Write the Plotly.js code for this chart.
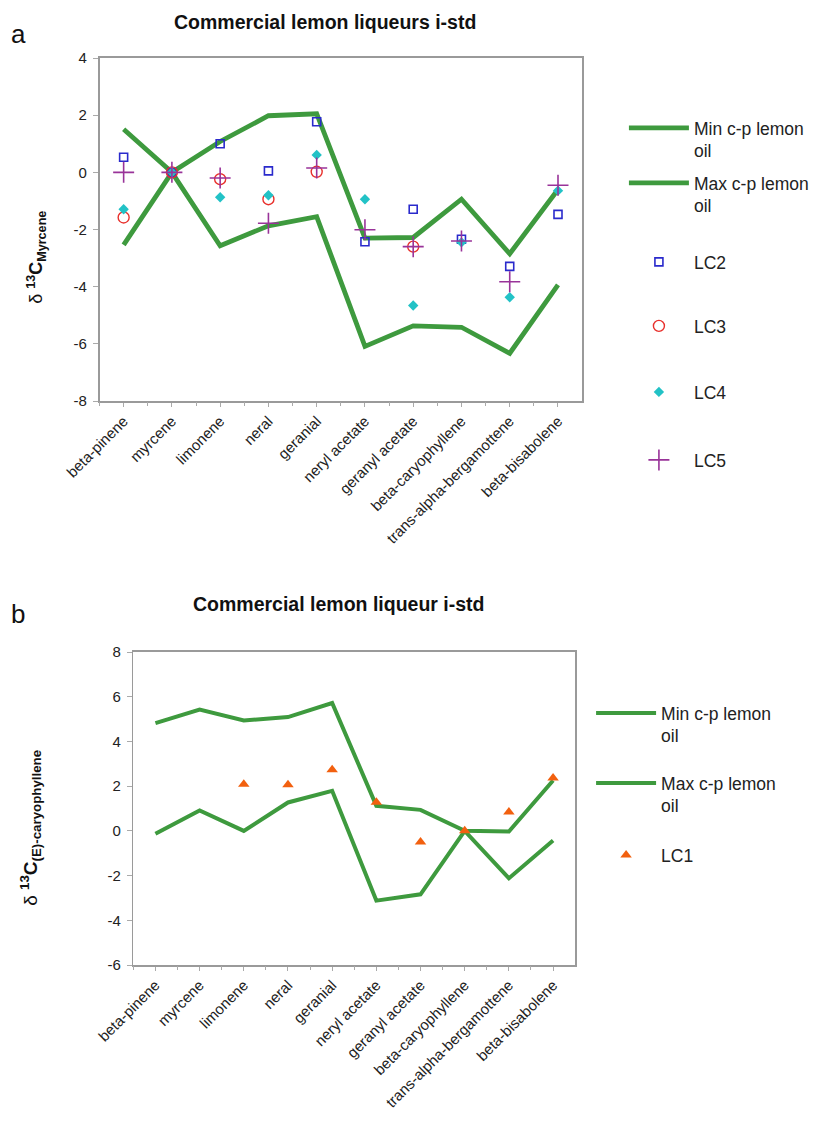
<!DOCTYPE html>
<html>
<head>
<meta charset="utf-8">
<script src="https://cdn.plot.ly/plotly-3.0.1.min.js"></script>
<style>html,body{margin:0;padding:0;background:#fff;}#chart{width:814px;height:1130px;}</style>
</head>
<body>
<div id="chart"></div>
<script>
const categories = ['beta-pinene','myrcene','limonene','neral','geranial','neryl acetate','geranyl acetate','beta-caryophyllene','trans-alpha-bergamottene','beta-bisabolene'];

// Panel a: δ13C Myrcene
const minA = [-2.54, 0, -2.57, -1.87, -1.55, -6.09, -5.37, -5.42, -6.33, -3.94];
const maxA = [1.51, 0, 1.08, 1.98, 2.05, -2.30, -2.28, -0.94, -2.85, -0.60];
const lc2 = [0.53, 0, 1.00, 0.05, 1.77, -2.43, -1.29, -2.34, -3.29, -1.47];
const lc3 = [-1.58, 0, -0.24, -0.94, 0.02, null, -2.60, null, null, null];
const lc4 = [-1.29, 0, -0.87, -0.80, 0.61, -0.94, -4.66, -2.45, -4.37, -0.64];
const lc5 = [0, 0, -0.20, -1.78, 0.15, -2.01, -2.60, -2.40, -3.83, -0.45];
const yTicksA = [-8, -6, -4, -2, 0, 2, 4];
const yTickTextA = ['-8', '-6', '-4', '-2', '0', '2', '4'];

// Panel b: δ13C (E)-caryophyllene
const minB = [-0.13, 0.91, 0.00, 1.27, 1.79, -3.12, -2.84, 0.00, -2.12, -0.43];
const maxB = [4.82, 5.42, 4.94, 5.09, 5.72, 1.12, 0.94, 0.00, -0.03, 2.25];
const lc1 = [null, null, 2.09, 2.06, 2.73, 1.28, -0.50, 0.00, 0.84, 2.36];
const yTicksB = [-6, -4, -2, 0, 2, 4, 6, 8];
const yTickTextB = ['-6', '-4', '-2', '0', '2', '4', '6', '8'];

const W = 814, H = 1130;
const px = v => v / W;
const py = v => 1 - v / H;
const green = '#3e9a3e';
const FONT = 'Liberation Sans, Arial, sans-serif';

const traces = [
  {x: categories, y: minA, name: 'Min c-p lemon<br>oil', mode: 'lines', line: {color: green, width: 4.8}, xaxis: 'x', yaxis: 'y', legend: 'legend'},
  {x: categories, y: maxA, name: 'Max c-p lemon<br>oil', mode: 'lines', line: {color: green, width: 4.8}, xaxis: 'x', yaxis: 'y', legend: 'legend2'},
  {x: categories, y: lc2, name: 'LC2', mode: 'markers', marker: {symbol: 'square-open', size: 8, color: '#2a2acc', line: {width: 1.6}}, xaxis: 'x', yaxis: 'y', legend: 'legend3'},
  {x: categories, y: lc3, name: 'LC3', mode: 'markers', marker: {symbol: 'circle-open', size: 11, color: '#e8302c', line: {width: 1.4}}, xaxis: 'x', yaxis: 'y', legend: 'legend4'},
  {x: categories, y: lc4, name: 'LC4', mode: 'markers', marker: {symbol: 'diamond', size: 8, color: '#22c2c6'}, xaxis: 'x', yaxis: 'y', legend: 'legend5'},
  {x: categories, y: lc5, name: 'LC5', mode: 'markers', marker: {symbol: 'cross-thin-open', size: 15, color: '#993399', line: {width: 1.6, color: '#993399'}}, xaxis: 'x', yaxis: 'y', legend: 'legend6'},
  // helper for boundary ticks (invisible)
  {x: categories, y: minA, mode: 'markers', marker: {opacity: 0}, xaxis: 'x2', yaxis: 'y', showlegend: false, hoverinfo: 'skip'},

  {x: categories, y: maxB, name: 'Min c-p lemon<br>oil', mode: 'lines', line: {color: green, width: 4}, xaxis: 'x3', yaxis: 'y3', legend: 'legend7'},
  {x: categories, y: minB, name: 'Max c-p lemon<br>oil', mode: 'lines', line: {color: green, width: 4}, xaxis: 'x3', yaxis: 'y3', legend: 'legend8'},
  {x: categories, y: lc1, name: 'LC1', mode: 'markers', marker: {symbol: 'triangle-up', size: 10, color: '#f2600f'}, xaxis: 'x3', yaxis: 'y3', legend: 'legend9'},
  {x: categories, y: minB, mode: 'markers', marker: {opacity: 0}, xaxis: 'x4', yaxis: 'y3', showlegend: false, hoverinfo: 'skip'}
];

const xBase = {
  type: 'category', range: [-0.5, 9.5], ticks: 'outside', ticklen: 4, tickcolor: '#aaa', tickwidth: 1,
  tickangle: -45, tickfont: {family: FONT, size: 15, color: '#222'},
  showline: true, mirror: true, linecolor: '#9a9a9a', linewidth: 1.6, showgrid: false, zeroline: false, fixedrange: true
};
const xTick = {
  type: 'category', range: [-0.5, 9.5], ticks: 'outside', ticklen: 4, tickcolor: '#aaa', tickwidth: 1,
  tickson: 'boundaries', showticklabels: false, showline: false, showgrid: false, zeroline: false
};
const yBase = {
  ticks: 'outside', ticklen: 5, tickcolor: '#aaa', tickmode: 'array', tickfont: {family: FONT, size: 15, color: '#222'},
  ticklabelstandoff: 3,
  showline: true, mirror: true, linecolor: '#9a9a9a', linewidth: 1.6, showgrid: false, zeroline: false, fixedrange: true
};

function leg(xp, yp) {
  return {x: px(xp), y: py(yp - 18), xanchor: 'left', yanchor: 'top', valign: 'top',
          font: {family: FONT, size: 17.5, color: '#222'}, bgcolor: 'rgba(0,0,0,0)', itemwidth: 60};
}

const layout = {
  width: W, height: H,
  margin: {l: 0, r: 0, t: 0, b: 0},
  paper_bgcolor: '#fff', plot_bgcolor: '#fff',
  font: {family: FONT, color: '#222'},
  showlegend: true,
  xaxis: Object.assign({}, xBase, {domain: [px(100), px(585)], anchor: 'y'}),
  xaxis2: Object.assign({}, xTick, {overlaying: 'x', anchor: 'y'}),
  yaxis: Object.assign({}, yBase, {domain: [py(401), py(58)], anchor: 'x', range: [-8, 4], tickvals: yTicksA, ticktext: yTickTextA}),
  xaxis3: Object.assign({}, xBase, {domain: [px(134), px(578)], anchor: 'y3'}),
  xaxis4: Object.assign({}, xTick, {overlaying: 'x3', anchor: 'y3'}),
  yaxis3: Object.assign({}, yBase, {domain: [py(965), py(652)], anchor: 'x3', range: [-6, 8], tickvals: yTicksB, ticktext: yTickTextB}),
  legend: leg(627, 128),
  legend2: leg(627, 183),
  legend3: leg(627, 262),
  legend4: leg(627, 326),
  legend5: leg(627, 392),
  legend6: leg(627, 460),
  legend7: leg(594, 713),
  legend8: leg(594, 783),
  legend9: leg(594, 855),
  annotations: [
    {text: '<b>Commercial lemon liqueurs i-std</b>', xref: 'paper', yref: 'paper', x: px(327), y: py(22), xanchor: 'center', yanchor: 'middle', showarrow: false, font: {family: FONT, size: 19.5, color: '#111'}},
    {text: '<b>Commercial lemon liqueur i-std</b>', xref: 'paper', yref: 'paper', x: px(340), y: py(604), xanchor: 'center', yanchor: 'middle', showarrow: false, font: {family: FONT, size: 19.5, color: '#111'}},
    {text: 'a', xref: 'paper', yref: 'paper', x: px(9), y: py(34), xanchor: 'left', yanchor: 'middle', showarrow: false, font: {family: FONT, size: 26, color: '#111'}},
    {text: 'b', xref: 'paper', yref: 'paper', x: px(9), y: py(614), xanchor: 'left', yanchor: 'middle', showarrow: false, font: {family: FONT, size: 26, color: '#111'}},
    {text: 'δ <b><sup>13</sup>C<sub>Myrcene</sub></b>', xref: 'paper', yref: 'paper', x: px(36), y: py(257), xanchor: 'center', yanchor: 'middle', textangle: -90, showarrow: false, font: {family: FONT, size: 18, color: '#111'}},
    {text: 'δ <b><sup>13</sup>C<sub>(E)-caryophyllene</sub></b>', xref: 'paper', yref: 'paper', x: px(30), y: py(828), xanchor: 'center', yanchor: 'middle', textangle: -90, showarrow: false, font: {family: FONT, size: 19, color: '#111'}}
  ]
};

Plotly.newPlot('chart', traces, layout, {displayModeBar: false, staticPlot: true});
</script>
</body>
</html>
